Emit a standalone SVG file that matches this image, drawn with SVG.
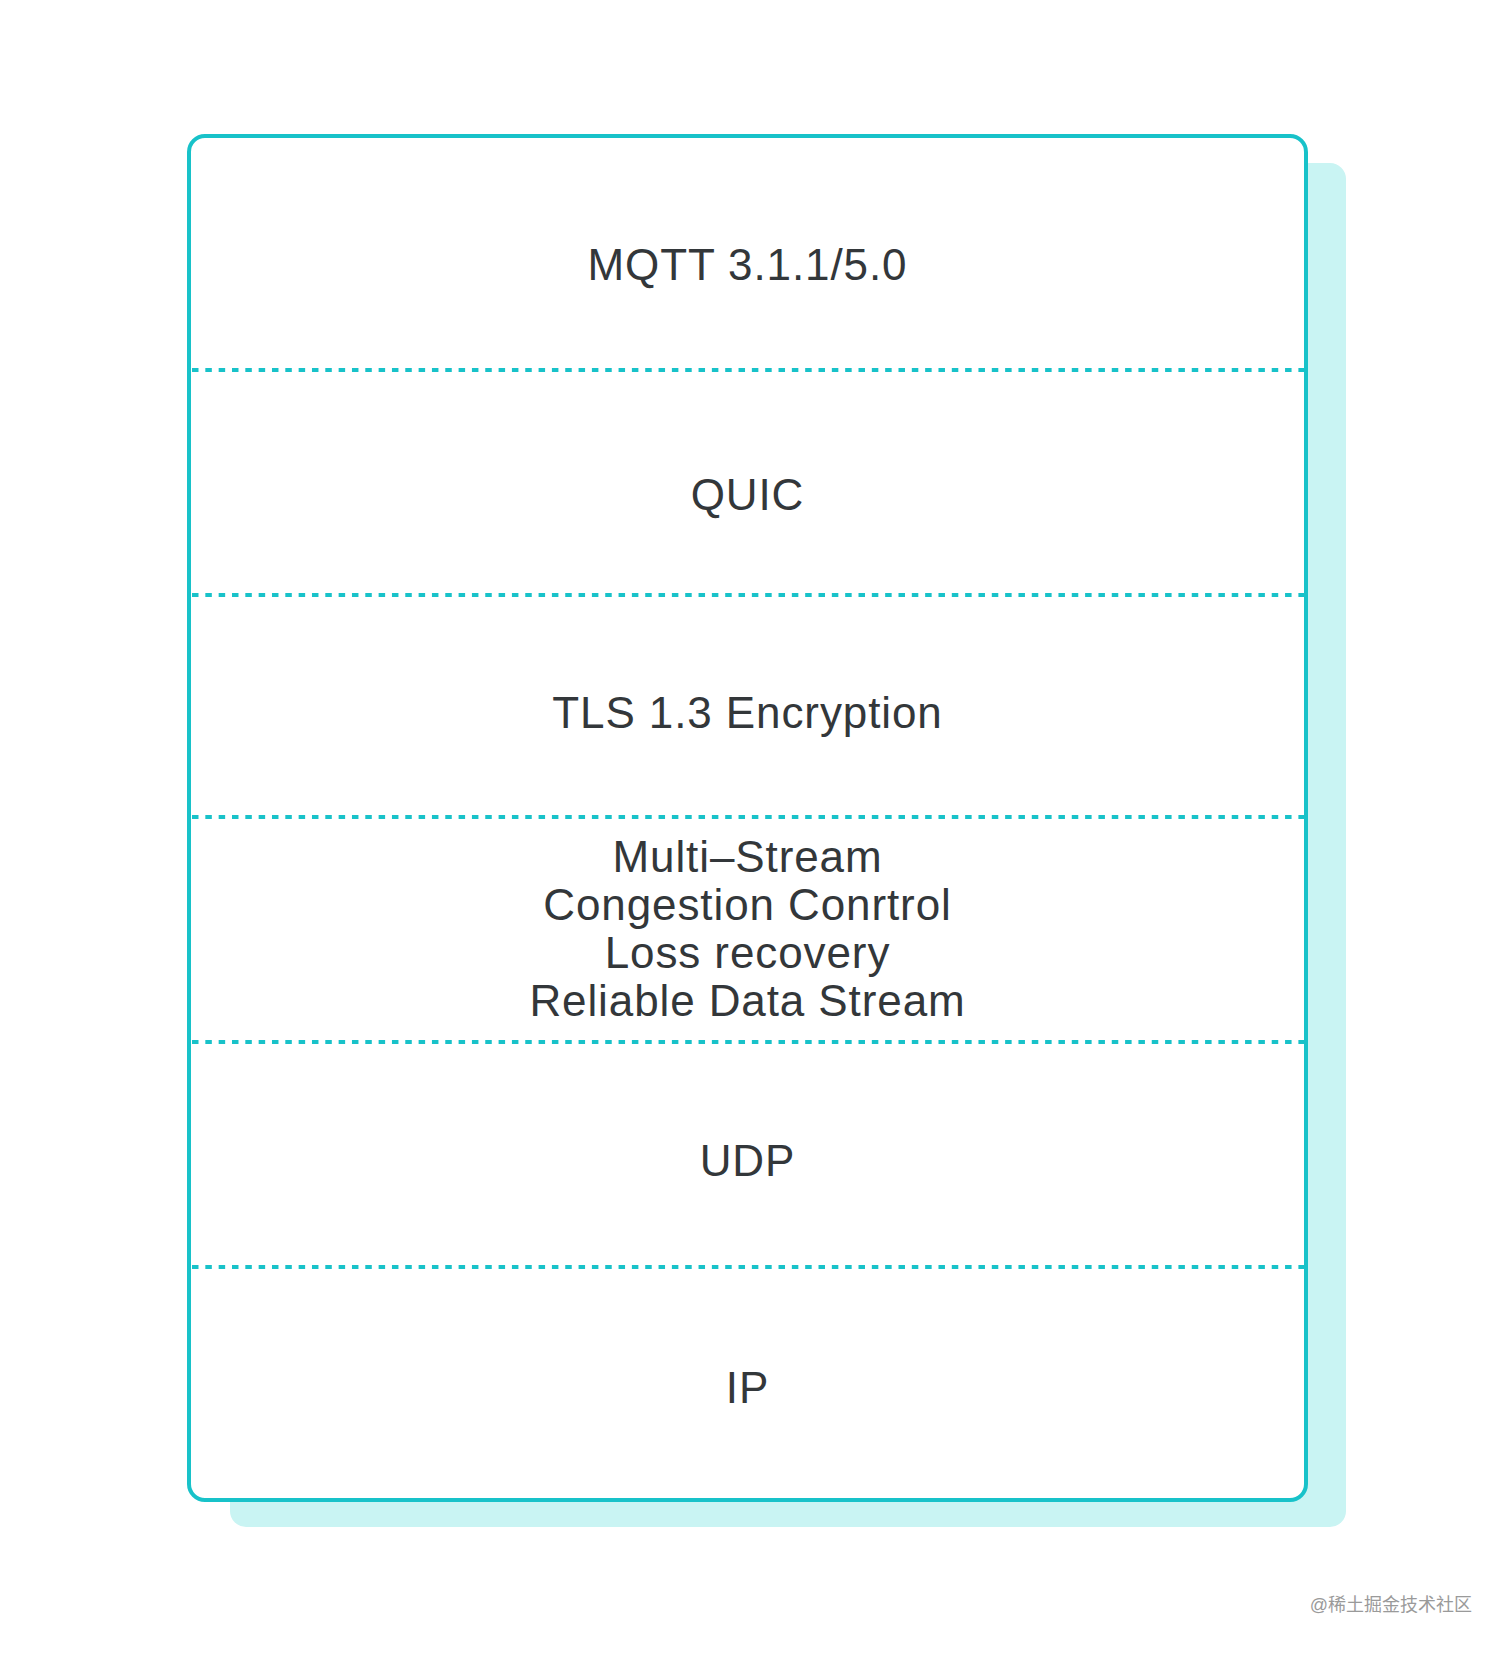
<svg xmlns="http://www.w3.org/2000/svg" width="1512" height="1653" viewBox="0 0 1512 1653">
<style>
.lbl{font-family:"Liberation Sans",Arial,sans-serif;font-size:44px;fill:#33373a;text-anchor:middle;letter-spacing:0.9px}
.sep{stroke:#18c2c9;stroke-width:4;stroke-dasharray:6.5 6.83;fill:none}
.wm{font-family:"Liberation Sans","Noto Sans CJK SC",sans-serif;font-size:18px;fill:#9a9a9a;text-anchor:end}
</style>
<rect width="1512" height="1653" fill="#ffffff"/>
<g id="stack">
<rect id="shadow" x="230" y="163" width="1116" height="1364" rx="16" fill="#c9f4f3"/>
<rect id="frame" x="189" y="136" width="1117" height="1364" rx="16" fill="#ffffff" stroke="#18c2c9" stroke-width="4"/>
</g>
<g id="connectors">
<line class="sep" x1="192" y1="370" x2="1304" y2="370"/>
<line class="sep" x1="192" y1="595" x2="1304" y2="595"/>
<line class="sep" x1="192" y1="817" x2="1304" y2="817"/>
<line class="sep" x1="192" y1="1042" x2="1304" y2="1042"/>
<line class="sep" x1="192" y1="1267" x2="1304" y2="1267"/>
</g>
<g id="mqtt"><text class="lbl" x="747.5" y="280">MQTT 3.1.1/5.0</text></g>
<g id="quic"><text class="lbl" x="747.5" y="510">QUIC</text></g>
<g id="tls"><text class="lbl" x="747.5" y="728">TLS 1.3 Encryption</text></g>
<g id="transport">
<text class="lbl" x="747.5" y="872">Multi–Stream</text>
<text class="lbl" x="747.5" y="920">Congestion Conrtrol</text>
<text class="lbl" x="747.5" y="968">Loss recovery</text>
<text class="lbl" x="747.5" y="1016">Reliable Data Stream</text>
</g>
<g id="udp"><text class="lbl" x="747.5" y="1176">UDP</text></g>
<g id="ip"><text class="lbl" x="747.5" y="1403">IP</text></g>
<text class="wm" x="1472" y="1611">@稀土掘金技术社区</text>
</svg>
